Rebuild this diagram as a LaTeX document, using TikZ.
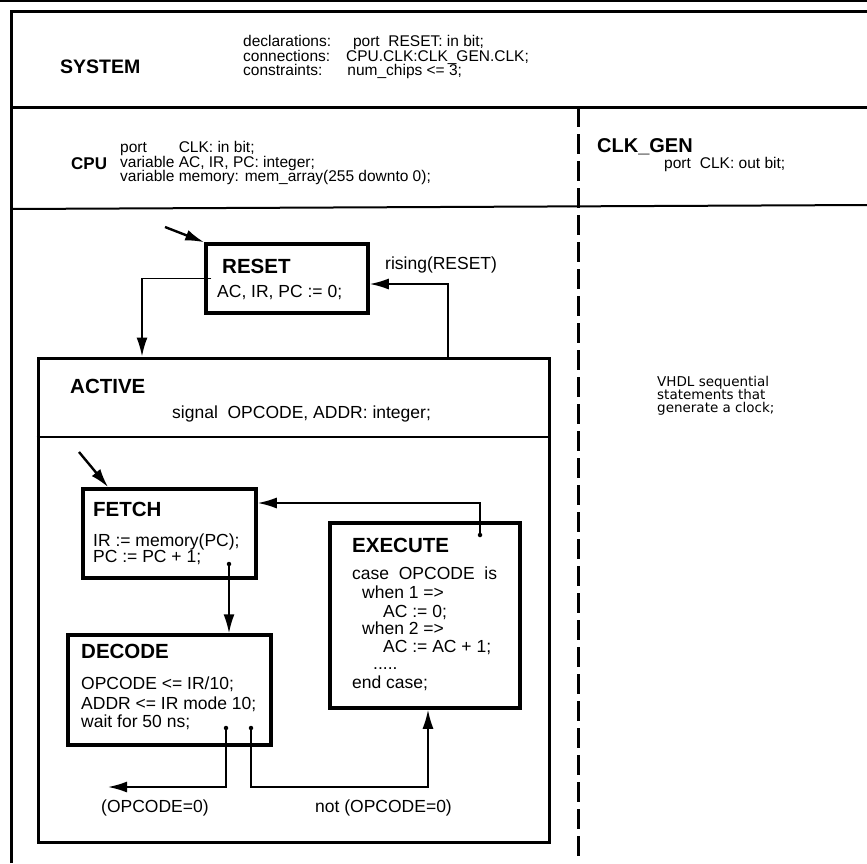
\documentclass[tikz,border=0pt]{standalone}
\usepackage{fontspec}
\setmainfont{Liberation Sans}
\newfontfamily\vhdlfont{DejaVu Sans}
\usetikzlibrary{arrows.meta,positioning,calc}

\begin{document}
\begin{tikzpicture}[x=1pt,y=-1pt,
  edge/.style={line width=3pt},
  sep/.style={line width=2pt},
  state/.style={draw,line width=3.5pt,inner sep=0},
  head/.style={anchor=base west,inner sep=0,font=\bfseries\fontsize{#1}{#1}\selectfont},
  head/.default=20.5,
  code/.style={anchor=base west,inner sep=0,font=\fontsize{17.5}{20}\selectfont},
  decl/.style={anchor=base west,inner sep=0,font=\fontsize{15.5}{17}\selectfont},
  trans/.style={line width=1.8pt,-{Latex[length=19pt,width=11pt]}},
  src/.style={circle,fill,inner sep=0,minimum size=4.5pt}]
  \useasboundingbox (0,0) rectangle (867,863);

  % frame of the system
  \draw[line width=1.2pt] (0,1) -- (867,1);
  \draw[edge] (11,863) -- (11,11) -- (867,11);
  \draw[edge] (11,107) -- (867,107);
  \draw[sep] (11,209) -- (867,205);
  \draw[edge,dash pattern=on 20pt off 7pt] (578,107) -- (578,863);

  \node[head=19.5] (system) at (60,73) {SYSTEM};
  \node[decl] (sys-1) at (243,46.5) {declarations:\hspace{22pt}port\ \ RESET: in bit;};
  \node[decl] (sys-2) at (243,61) {connections:\hspace{16pt}CPU.CLK:CLK\_GEN.CLK;};
  \node[decl] (sys-3) at (243,75.5) {constraints:\hspace{25pt}num\_chips <= 3;};

  \node[head=17] (cpu) at (71,169) {CPU};
  \node[decl] (cpu-1) at (120,152.5) {\rlap{port}\phantom{variable} CLK: in bit;};
  \node[decl] (cpu-2) at (120,167) {variable AC, IR, PC: integer;};
  \node[decl] (cpu-3) at (120,181.5) {variable memory: mem\_array(255 downto 0);};

  \node[head=20] (clkgen) at (597,152) {CLK\_GEN};
  \node[decl] (clkgen-1) at (664,168.5) {port\hspace{9pt}CLK: out bit;};
  \foreach \t [count=\i] in {VHDL sequential,statements that,generate a clock;}
    \node[anchor=base west,inner sep=0,font=\vhdlfont\fontsize{13.5}{13}\selectfont]
      (vhdl-\i) at (657,373+13*\i) {\t};

  % states of the CPU
  \node[state,minimum width=162pt,minimum height=69pt] (reset) at (287,278.5) {};
  \node[head] (reset-t) at (222,273) {RESET};
  \node[code] (reset-1) at (217,297) {AC, IR, PC := 0;};

  \node[state,line width=3pt,minimum width=511pt,minimum height=484pt] (active) at (293.5,600) {};
  \coordinate (actsep) at (0,437);
  \draw[sep] (active.west |- actsep) -- (active.east |- actsep);
  \node[head] (active-t) at (70,393) {ACTIVE};
  \node[code] (active-1) at (172,418) {signal\ \ OPCODE, ADDR: integer;};

  \node[state,minimum width=173pt,minimum height=89pt] (fetch) at (169.5,533.5) {};
  \node[head] (fetch-t) at (93,516) {FETCH};
  \node[code] (fetch-1) at (93,546) {IR := memory(PC);};
  \node[code] (fetch-2) at (93,562) {PC := PC + 1;};

  \node[state,minimum width=203pt,minimum height=110pt] (decode) at (169.5,690) {};
  \node[head] (decode-t) at (81,658) {DECODE};
  \node[code] (decode-1) at (81,689) {OPCODE <= IR/10;};
  \node[code] (decode-2) at (81,709) {ADDR <= IR mode 10;};
  \node[code] (decode-3) at (81,727) {wait for 50 ns;};

  \node[state,minimum width=190pt,minimum height=185pt] (execute) at (425,615.5) {};
  \node[head] (execute-t) at (352,552) {EXECUTE};
  \node[code] (execute-1) at (352,579) {case\ \ OPCODE\ \ is};
  \node[code] (execute-2) at (362,598) {when 1 =>};
  \node[code] (execute-3) at (383,617) {AC := 0;};
  \node[code] (execute-4) at (362,634) {when 2 =>};
  \node[code] (execute-5) at (383,652) {AC := AC + 1;};
  \node[code] (execute-6) at (373,669) {.....};
  \node[code] (execute-7) at (352,688) {end case;};

  % transitions
  \coordinate (reset-init) at (165,227);
  \draw[trans,line width=2.4pt] (reset-init) -- (reset.north west);
  \coordinate (fetch-init) at (79,452);
  \draw[trans,line width=2.4pt] (fetch-init) -- ([xshift=27pt]fetch.north west);

  \coordinate (down) at (142,0);
  \draw[trans] ([xshift=7pt]reset.west) -| (active.north -| down);
  \coordinate (up) at (448,0);
  \draw[trans] (active.north -| up) |- ([yshift=-5.5pt]reset.east);
  \node[code] (rising) at (385,269) {rising(RESET)};

  \node[src] (fetch-src) at (229,564) {};
  \draw[trans] (fetch-src) -- (fetch-src |- decode.north);
  \node[src] (execute-src) at (480,535) {};
  \draw[trans] (execute-src) |- ([yshift=30.5pt]fetch.east);

  \node[src] (decode-src1) at (226,728) {};
  \node[src] (decode-src2) at (251,728) {};
  \coordinate (stop) at (108,787);
  \draw[trans] (decode-src1) |- (stop);
  \coordinate (turn) at (428,787);
  \draw[trans] (decode-src2) |- (turn) -- (turn |- execute.south);
  \node[code] (zero) at (101,812) {(OPCODE=0)};
  \node[code] (nonzero) at (315,812) {not (OPCODE=0)};
\end{tikzpicture}
\end{document}
